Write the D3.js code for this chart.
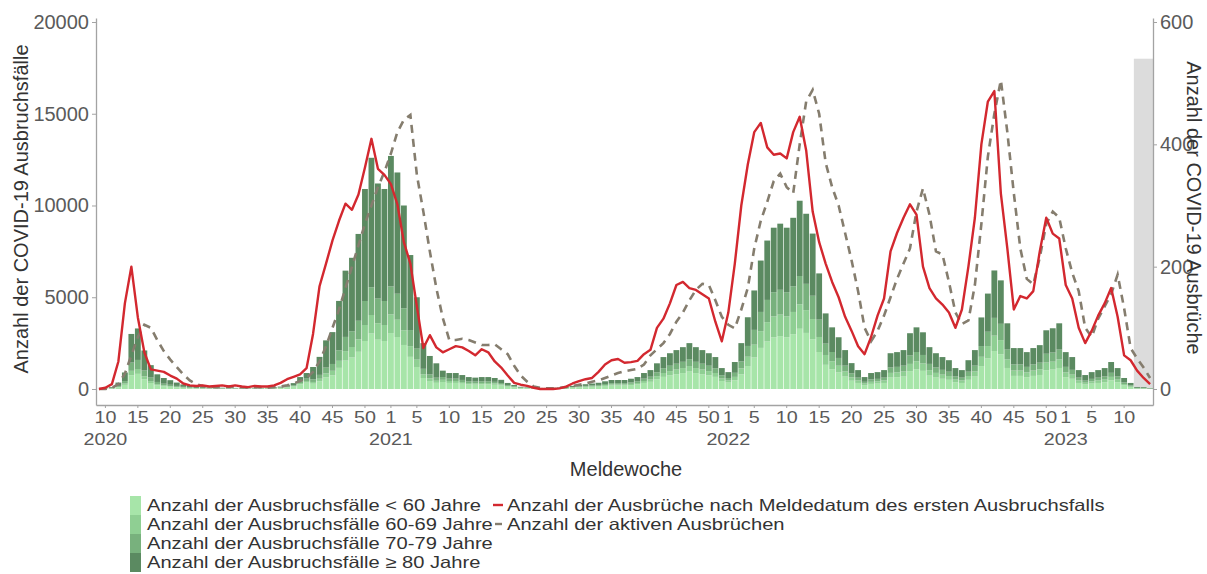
<!DOCTYPE html>
<html><head><meta charset="utf-8">
<script src="https://cdn.jsdelivr.net/npm/d3@7"></script>
<style>body{margin:0;background:#fff;} svg{display:block;font-family:"Liberation Sans",Arial,sans-serif;}</style>
</head><body><svg id="chart" width="1207" height="574"></svg>
<script>
// ---- categories: ISO reporting weeks (year, first week, last week)
const weekSegments = [[2020, 9, 53], [2021, 1, 52], [2022, 1, 52], [2023, 1, 14]];
const weeks = [];
weekSegments.forEach(([y, a, b]) => { for (let w = a; w <= b; w++) weeks.push(y + "-W" + w); });

// ---- tick labels
const xTicks = ["2020-W10","2020-W15","2020-W20","2020-W25","2020-W30","2020-W35","2020-W40","2020-W45","2020-W50",
  "2021-W1","2021-W5","2021-W10","2021-W15","2021-W20","2021-W25","2021-W30","2021-W35","2021-W40","2021-W45","2021-W50",
  "2022-W1","2022-W5","2022-W10","2022-W15","2022-W20","2022-W25","2022-W30","2022-W35","2022-W40","2022-W45","2022-W50",
  "2023-W1","2023-W5","2023-W10"];
const yearTicks = {"2020-W10": "2020", "2021-W1": "2021", "2022-W1": "2022", "2023-W1": "2023"};
const leftTicks = [0, 5000, 10000, 15000, 20000];
const rightTicks = [0, 200, 400, 600];

// ---- series: outbreak cases by age group (left axis)
const casesU60 = [0,8,25,88,225,750,825,525,325,200,150,120,88,62,45,33,25,23,20,18,15,
  24,20,20,24,24,28,36,52,80,128,260,348,
  288,420,636,744,1152,1548,1716,2028,2616,3024,2688,2616,3048,2832,2400,1752,1200,600,432,336,
  380,331,331,289,247,236,247,247,228,190,125,84,46,34,27,23,23,27,34,46,65,84,99,114,129,160,186,186,186,213,247,331,391,532,661,741,806,866,950,866,806,741,661,433,350,
  470,800,1251,1718,2240,2589,2813,2883,2813,2986,3283,3056,2710,2016,1318,1075,902,678,451,330,208,278,294,330,624,643,678,973,1075,989,730,624,557,502,365,330,502,678,1248,1664,2067,1894,1146,714,714,643,714,765,1024,1059,1146,643,557,330,243,294,330,365,470,365,192,106,35,32,16];
const cases6069 = [0,2,8,28,72,240,264,168,104,64,48,38,28,20,14,10,8,7,6,6,5,
  6,5,5,6,6,7,9,13,20,32,65,87,
  96,140,212,248,384,516,572,676,872,1008,896,872,1016,944,800,584,400,200,144,112,
  120,104,104,91,78,74,78,78,72,60,40,26,14,11,8,7,7,8,11,14,20,26,31,36,41,50,59,59,59,67,78,104,124,168,209,234,254,274,300,274,254,234,209,137,110,
  191,325,508,698,910,1052,1143,1171,1143,1213,1334,1242,1101,819,536,437,367,276,183,134,85,113,120,134,254,261,276,395,437,402,296,254,226,204,148,134,204,276,507,676,840,770,465,290,290,261,290,311,416,430,465,261,226,134,99,120,134,148,191,148,78,43,14,13,7];
const cases7079 = [0,5,15,53,135,450,495,315,195,120,90,72,52,38,27,20,15,14,12,10,9,
  9,8,8,9,9,10,14,20,30,48,98,130,
  144,210,318,372,576,774,858,1014,1308,1512,1344,1308,1524,1416,1200,876,600,300,216,168,
  150,130,130,114,98,93,98,98,90,75,50,33,18,14,10,9,9,10,14,18,26,33,39,45,51,63,74,74,74,84,98,130,155,210,261,293,318,342,375,342,318,293,261,171,138,
  221,375,587,806,1050,1214,1319,1352,1319,1400,1539,1433,1271,945,618,504,423,318,212,155,98,131,138,155,293,302,318,456,504,464,342,293,261,236,171,155,236,318,585,780,969,888,537,335,335,302,335,359,480,497,537,302,261,155,114,138,155,171,221,171,90,50,17,15,8];
const cases80 = [0,15,52,181,468,1560,1716,1092,676,416,312,250,182,130,94,67,52,46,42,36,31,
  21,17,17,21,21,25,31,45,70,112,227,305,
  672,980,1484,1736,2688,3612,4004,4732,6104,7056,6272,6104,7112,6608,5600,4088,2800,1400,1008,784,
  350,305,305,266,227,217,227,227,210,175,115,77,42,31,25,21,21,25,31,42,59,77,91,105,119,147,171,171,171,196,227,305,360,490,609,682,742,798,875,798,742,682,609,399,322,
  588,1000,1564,2148,2800,3235,3515,3604,3515,3731,4104,3819,3388,2520,1648,1344,1128,848,564,411,259,348,368,411,779,804,848,1216,1344,1235,912,779,696,628,456,411,628,848,1560,2080,2584,2368,1432,891,891,804,891,955,1280,1324,1432,804,696,411,304,368,411,456,588,456,240,131,44,40,19];

// ---- series: outbreaks (right axis)
const outbreaksNew = [0,2,8,45,140,200,117,60,32,30,28,22,17,9,6,
  5,6,4,5,6,4,6,4,3,5,4,4,6,10,
  16,20,24,34,90,168,205,243,275,303,293,318,362,409,360,350,335,302,240,205,135,67,88,68,
  60,65,70,68,62,55,65,60,45,35,22,10,7,5,2,0,0,0,1,4,9,13,16,18,28,40,47,49,43,44,46,57,64,100,115,140,170,175,165,162,155,148,110,78,125,
  205,300,367,420,435,395,383,385,377,420,445,390,290,240,205,175,150,118,95,70,57,85,120,148,225,255,280,302,285,200,165,148,138,125,100,130,200,280,400,470,487,320,230,130,152,148,160,225,280,254,246,170,148,100,75,95,120,140,165,118,55,47,30,18,8];
const outbreaksActive = [0,0,2,8,25,55,85,105,100,80,62,48,36,24,14,8,5,
  4,3,3,4,3,3,2,3,3,2,3,4,
  6,9,13,18,28,45,70,100,130,165,200,235,270,300,330,355,385,420,440,448,350,290,225,165,
  116,80,80,82,80,76,72,72,73,65,57,38,22,12,4,2,1,1,2,3,5,7,9,12,14,18,22,26,29,31,33,40,55,65,75,90,110,125,145,162,172,170,145,118,105,
  99,130,165,230,275,306,340,352,330,320,400,470,489,450,370,330,300,255,210,160,100,78,95,120,150,180,205,230,290,328,285,225,220,175,125,106,112,170,270,380,450,505,420,320,230,180,171,215,270,290,280,230,190,160,100,85,115,135,155,187,132,67,50,35,18];

// incomplete-data shading (last weeks) height on left axis
const shadedWeeks = ["2023-W12", "2023-W14"];
const shadedHeight = 18000;

const ageKeys = ["u60", "a6069", "a7079", "a80"];
const ageLabels = ["Anzahl der Ausbruchsfälle < 60 Jahre", "Anzahl der Ausbruchsfälle 60-69 Jahre",
  "Anzahl der Ausbruchsfälle 70-79 Jahre", "Anzahl der Ausbruchsfälle \u2265 80 Jahre"];
const ageColors = ["#a7e5a9", "#8fcf93", "#78b17d", "#5b8a61"];
const lineLabels = ["Anzahl der Ausbrüche nach Meldedatum des ersten Ausbruchsfalls", "Anzahl der aktiven Ausbrüchen"];
const redColor = "#d3282f", dashColor = "#857d6e";

const table = weeks.map((w, i) => ({week: w, u60: casesU60[i], a6069: cases6069[i], a7079: cases7079[i], a80: cases80[i],
  neu: outbreaksNew[i], aktiv: outbreaksActive[i]}));

const L = 96, R = 1153, T = 18, B = 405;
const FS = 20;
const svg = d3.select("#chart");
const x = d3.scaleBand().domain(weeks).range([L, R]).paddingInner(0.1).paddingOuter(0);
const yL = d3.scaleLinear().domain([-872, 20218]).range([B, T]);
const yR = d3.scaleLinear().domain([-872 * 0.03, 20218 * 0.03]).range([B, T]);
const step = x.step();

// widen text horizontally (reference typeface is wider than Liberation Sans)
function widen(sel, k) {
  sel.each(function () {
    const w = this.getComputedTextLength();
    d3.select(this).attr("textLength", w * k).attr("lengthAdjust", "spacingAndGlyphs");
  });
}

// shaded box
svg.append("rect")
  .attr("x", x(shadedWeeks[0]) - step * 0.05)
  .attr("y", yL(shadedHeight))
  .attr("width", R - (x(shadedWeeks[0]) - step * 0.05))
  .attr("height", yL(0) - yL(shadedHeight))
  .attr("fill", "#dcdcdc");

// stacked bars
const stack = d3.stack().keys(ageKeys)(table);
svg.append("g").selectAll("g").data(stack).join("g")
  .attr("fill", (d, i) => ageColors[i])
  .selectAll("rect").data(d => d).join("rect")
  .attr("x", d => x(d.data.week))
  .attr("width", x.bandwidth())
  .attr("y", d => yL(d[1]))
  .attr("height", d => Math.max(0, yL(d[0]) - yL(d[1])));

// lines
const cx = d => x(d.week) + x.bandwidth() / 2;
svg.append("path").datum(table)
  .attr("fill", "none").attr("stroke", dashColor).attr("stroke-width", 2.6)
  .attr("stroke-dasharray", "8,6")
  .attr("d", d3.line().x(cx).y(d => yR(d.aktiv)));
svg.append("path").datum(table)
  .attr("fill", "none").attr("stroke", redColor).attr("stroke-width", 2.4)
  .attr("stroke-linejoin", "round")
  .attr("d", d3.line().x(cx).y(d => yR(d.neu)));

// axes
const axisColor = "#a3a3a3", tickText = "#5a5a5a";
function styleAxis(g, fs) {
  g.select(".domain").attr("stroke", axisColor).attr("stroke-width", 1.3);
  g.selectAll(".tick line").attr("stroke", axisColor);
  g.selectAll(".tick text").attr("fill", tickText).attr("font-size", fs);
  g.attr("font-family", null);
}
svg.append("g").attr("transform", `translate(${L},0)`)
  .call(d3.axisLeft(yL).tickValues(leftTicks).tickSize(4).tickSizeOuter(0).tickPadding(3).tickFormat(d3.format("d")))
  .call(styleAxis, FS);
svg.append("g").attr("transform", `translate(${R},0)`)
  .call(d3.axisRight(yR).tickValues(rightTicks).tickSize(4).tickSizeOuter(0).tickPadding(3).tickFormat(d3.format("d")))
  .call(styleAxis, FS);
const XFS = 17;
const xAxisG = svg.append("g").attr("transform", `translate(0,${B})`)
  .call(d3.axisBottom(x).tickValues(xTicks).tickSize(3).tickSizeOuter(0).tickPadding(3)
    .tickFormat(d => d.split("-W")[1]))
  .call(styleAxis, XFS);
xAxisG.selectAll(".tick").filter(d => yearTicks[d])
  .append("text").attr("class", "yr").attr("y", 40).attr("fill", tickText).attr("font-size", XFS)
  .attr("text-anchor", "middle").text(d => yearTicks[d]);
widen(xAxisG.selectAll(".tick text"), 1.16);

// axis titles
svg.append("text").attr("transform", "translate(28,209) rotate(-90)").attr("text-anchor", "middle")
  .attr("font-size", FS).attr("fill", "#333").text("Anzahl der COVID-19 Ausbruchsfälle");
svg.append("text").attr("transform", "translate(1187,208) rotate(90)").attr("text-anchor", "middle")
  .attr("font-size", FS).attr("fill", "#333").text("Anzahl der COVID-19 Ausbrüche");
svg.append("text").attr("x", 626).attr("y", 476).attr("text-anchor", "middle")
  .attr("font-size", FS).attr("fill", "#333").text("Meldewoche");

// legend
const LFS = 16.5;
const lg = svg.append("g");
ageLabels.forEach((lab, i) => {
  lg.append("rect").attr("x", 130).attr("y", 496 + i * 19).attr("width", 11).attr("height", 19).attr("fill", ageColors[i]);
  lg.append("text").attr("class", "lt").attr("x", 147).attr("y", 505 + i * 19).attr("dy", "0.35em").attr("font-size", LFS)
    .attr("fill", "#333").text(lab);
});
lg.append("line").attr("x1", 493).attr("x2", 503).attr("y1", 505).attr("y2", 505).attr("stroke", redColor).attr("stroke-width", 2.4);
lg.append("line").attr("x1", 495).attr("x2", 502).attr("y1", 524).attr("y2", 524).attr("stroke", dashColor).attr("stroke-width", 2.4);
lineLabels.forEach((lab, i) => {
  lg.append("text").attr("class", "lt").attr("x", 507).attr("y", 505 + i * 19).attr("dy", "0.35em").attr("font-size", LFS)
    .attr("fill", "#333").text(lab);
});
widen(lg.selectAll("text.lt"), 1.22);
</script></body></html>
